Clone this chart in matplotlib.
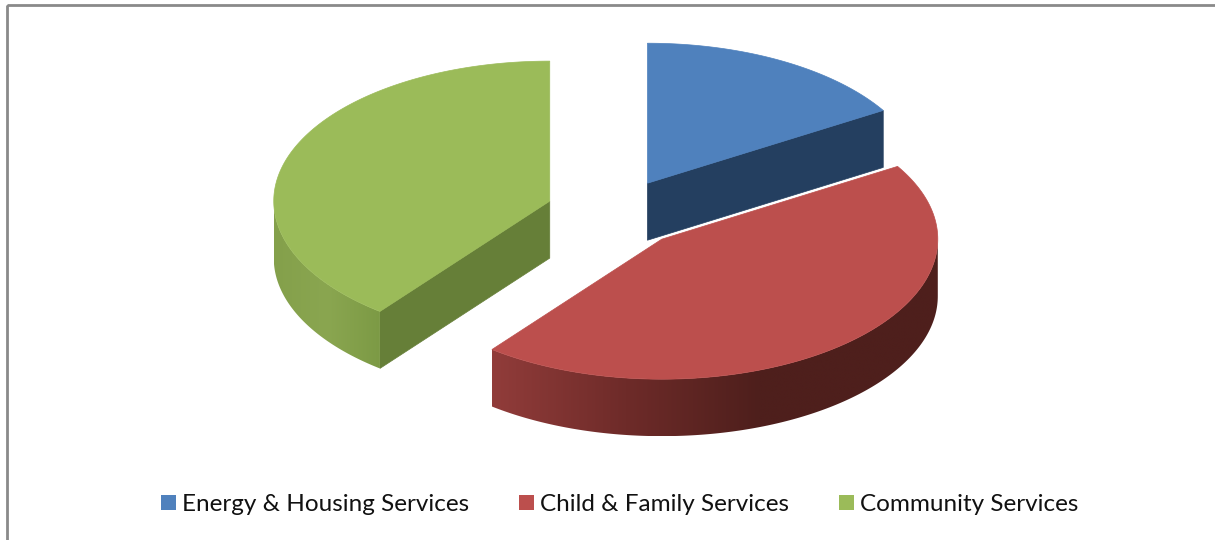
import numpy as np
import matplotlib
matplotlib.use("Agg")
import matplotlib.pyplot as plt
from matplotlib.colors import LinearSegmentedColormap
from matplotlib.patches import Polygon, Rectangle, Patch

# Service shares in percent
categories = ["Energy & Housing Services", "Child & Family Services", "Community Services"]
shares = [16.3, 44.25, 39.45]
explode = [0.24, 0.255, 0.25]

top_colors = ["#4f81bd", "#bc4f4d", "#9bbb59"]
cut_colors = ["#243f60", "#4e1f1c", "#667f38"]

CX, CY = 615.0, 212.5      # pie centre on the page
RX, RY = 276.0, 140.0      # projected radii of the top face
DEPTH = 57.0               # extruded thickness


def pt(center, theta):
    """Point on the top rim, theta clockwise from 12 o'clock."""
    return center[0] + RX * np.sin(theta), center[1] - RY * np.cos(theta)


fractions = np.array(shares) / np.sum(shares)
edges = np.concatenate([[0.0], np.cumsum(fractions) * 2 * np.pi])
slices = []
for i in range(3):
    a, b = edges[i], edges[i + 1]
    mid = (a + b) / 2
    c = (CX + explode[i] * RX * np.sin(mid), CY - explode[i] * RY * np.cos(mid))
    slices.append((a, b, c))

fig = plt.figure(figsize=(12.15, 5.4), dpi=100, facecolor="white")
ax = fig.add_axes([0, 0, 1, 1])
ax.set_xlim(0, 1215)
ax.set_ylim(540, 0)
ax.axis("off")

# Chart frame
ax.add_patch(Rectangle((6.5, 4.5), 1300, 700, fill=False, ec="#8a8a8a", lw=2.0, zorder=1))


def arc(center, a, b, dy=0.0, n=200):
    t = np.linspace(a, b, n)
    return np.column_stack([center[0] + RX * np.sin(t), center[1] - RY * np.cos(t) + dy])


def rim_wall(center, a, b, stops, z):
    """Outer wall between angles a and b, shaded left to right."""
    poly = np.vstack([arc(center, a, b), arc(center, b, a, DEPTH)])
    x0, x1 = poly[:, 0].min(), poly[:, 0].max()
    y0, y1 = poly[:, 1].min(), poly[:, 1].max()
    cmap = LinearSegmentedColormap.from_list("wall", stops)
    im = ax.imshow(np.linspace(0, 1, 256)[None, :], cmap=cmap, vmin=0, vmax=1,
                   extent=(x0, x1, y1, y0), aspect="auto", interpolation="bilinear", zorder=z)
    clip = Polygon(poly, closed=True, fc="none", ec="none", transform=ax.transData)
    ax.add_patch(clip)
    im.set_clip_path(clip)


def cut_face(center, theta, color, z):
    px, py = pt(center, theta)
    cx, cy = center
    ax.add_patch(Polygon([(cx, cy), (px, py), (px, py + DEPTH), (cx, cy + DEPTH)],
                         closed=True, fc=color, ec=color, lw=0.5, zorder=z))


def top_face(center, a, b, color, z):
    poly = np.vstack([[center], arc(center, a, b)])
    ax.add_patch(Polygon(poly, closed=True, fc=color, ec=color, lw=0.5, zorder=z))


# Blue slice
a, b, c = slices[0]
cut_face(c, b, cut_colors[0], 2)
top_face(c, a, b, top_colors[0], 3)

# Green slice
a, b, c = slices[2]
cut_face(c, a, cut_colors[2], 2)
rim_wall(c, a, 1.5 * np.pi, [(0, "#84a04b"), (0.5, "#8aa650"), (1, "#7c9a45")], 2)
top_face(c, a, b, top_colors[2], 3)

# Red slice, outlined in white where it overlaps the blue wall
a, b, c = slices[1]
rim_wall(c, np.pi / 2, b, [(0, "#913c3a"), (0.3, "#6e2b29"), (0.6, "#4e1f1c"), (1, "#4e1f1c")], 4)
top_face(c, a, b, top_colors[1], 5)
ax.plot(*zip(c, pt(c, a)), color="white", lw=1.5, zorder=4.5)

ax.set_xlim(0, 1215)
ax.set_ylim(540, 0)

handles = [Patch(fc=col, ec="none", label=lab) for col, lab in zip(top_colors, categories)]
ax.legend(handles=handles, ncol=3, loc="center", bbox_to_anchor=(619.5 / 1215, 1 - 504.5 / 540),
          frameon=False, prop={"family": "Lato", "size": 17.5}, handlelength=0.62, handleheight=0.62,
          handletextpad=0.25, columnspacing=2.05, labelcolor="#111111")

fig.savefig("out.png", dpi=100)
